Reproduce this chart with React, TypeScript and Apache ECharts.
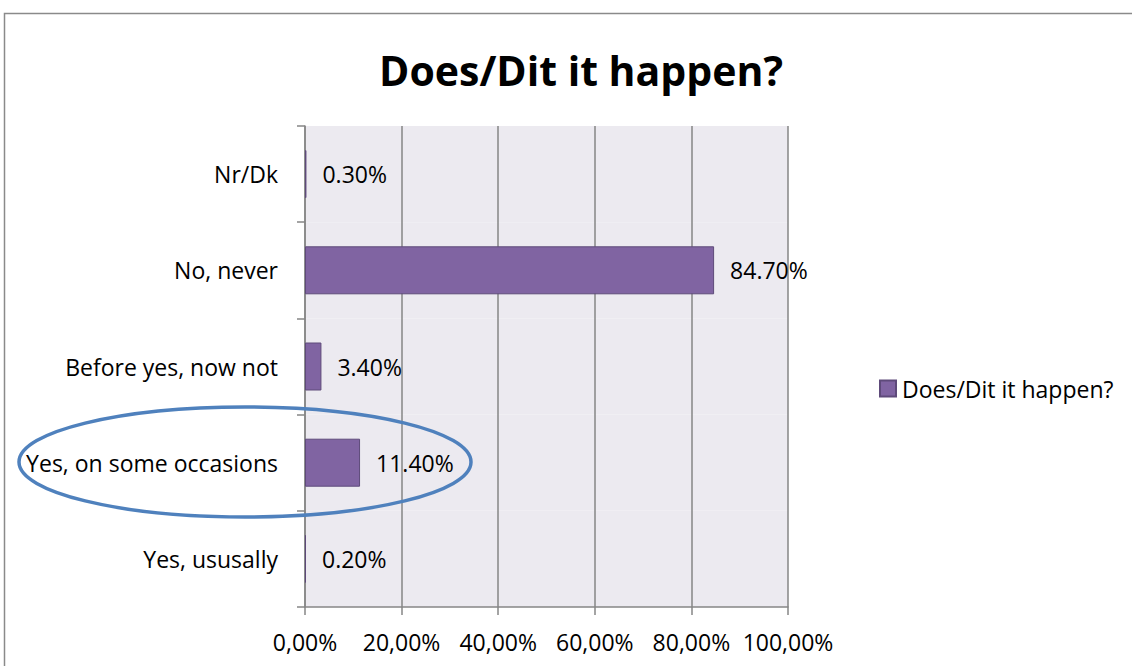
import React, { useEffect, useRef } from "react";
import * as echarts from "echarts";

const categories = ["Yes, ususally", "Yes, on some occasions", "Before yes, now not", "No, never", "Nr/Dk"];
const values = [0.2, 11.4, 3.4, 84.7, 0.3];
const seriesName = "Does/Dit it happen?";
const titleText = "Does/Dit it happen?";

const FONT = "'Open Sans', 'Noto Sans', sans-serif";
const FS = 23;

export default function App() {
  const ref = useRef<HTMLDivElement>(null);
  useEffect(() => {
    if (!ref.current) return;
    const chart = echarts.init(ref.current, undefined, { renderer: "svg" });
    chart.setOption({
      animation: false,
      backgroundColor: "#ffffff",
      title: {
        text: titleText,
        left: 576,
        textAlign: "center",
        top: 44,
        textStyle: { fontFamily: FONT, fontSize: 41, fontWeight: "bold", color: "#000" },
      },
      legend: {
        data: [seriesName],
        left: 874,
        top: 372,
        icon: "rect",
        itemWidth: 16,
        itemHeight: 16,
        itemGap: 6,
        textStyle: { fontFamily: FONT, fontSize: FS, color: "#000", padding: [0, 0, 0, 1] },
      },
      grid: { left: 305, right: 344, top: 126, bottom: 59, containLabel: false },
      xAxis: {
        type: "value",
        min: 0,
        max: 100,
        interval: 20,
        axisLine: { show: true, lineStyle: { color: "#868686", width: 1.5 } },
        axisTick: { show: true, length: 8, lineStyle: { color: "#868686", width: 1.5 } },
        axisLabel: {
          margin: 23,
          fontFamily: FONT,
          fontSize: FS,
          color: "#000",
          formatter: (v: number) => v.toFixed(2).replace(".", ",") + "%",
        },
        splitLine: { show: true, lineStyle: { color: "#868686", width: 1.5 } },
      },
      yAxis: {
        type: "category",
        data: categories,
        axisLine: { show: true, lineStyle: { color: "#868686", width: 1.5 } },
        axisTick: { show: true, length: 8, lineStyle: { color: "#868686", width: 1.5 } },
        axisLabel: { margin: 27, fontFamily: FONT, fontSize: FS, color: "#000" },
        splitArea: { show: true, areaStyle: { color: ["#ECEAF0", "#ECEAF0"] } },
      },
      series: [
        {
          name: seriesName,
          type: "bar",
          data: values,
          barWidth: 48,
          itemStyle: { color: "#8064A2", borderColor: "#5E4A7A", borderWidth: 1 },
          label: {
            show: true,
            position: "right",
            distance: 16,
            fontFamily: FONT,
            fontSize: FS,
            color: "#000",
            formatter: (p: any) => Number(p.value).toFixed(2) + "%",
          },
        },
      ],
      graphic: [
        {
          type: "rect",
          shape: { x: 4.5, y: 13.5, width: 1140, height: 700 },
          style: { fill: "none", stroke: "#8a8a8a", lineWidth: 1.5 },
          silent: true,
        },
        {
          type: "ellipse",
          shape: { cx: 245, cy: 462, rx: 226, ry: 55 },
          style: { fill: "none", stroke: "#4F81BD", lineWidth: 3.5 },
          silent: true,
          z: 100,
        },
      ],
    });
    return () => chart.dispose();
  }, []);
  return (
    <div
      ref={ref}
      style={{ position: "fixed", left: 0, top: 0, width: 1132, height: 666 }}
    />
  );
}
